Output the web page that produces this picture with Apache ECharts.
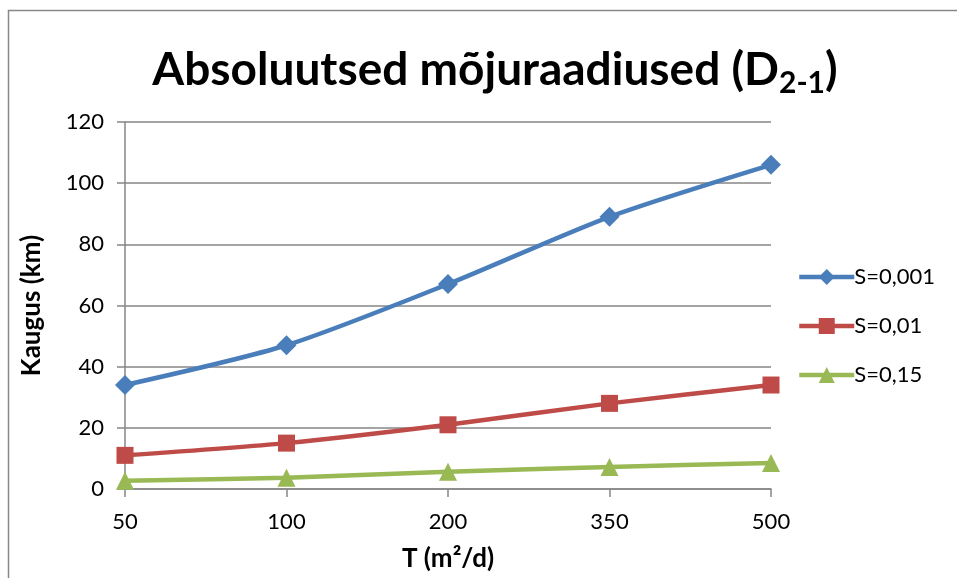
<!DOCTYPE html>
<html>
<head>
<meta charset="utf-8">
<script src="https://cdn.jsdelivr.net/npm/echarts@6/dist/echarts.min.js"></script>
<style>
  html, body { margin: 0; padding: 0; background: #fff; }
  #main { width: 957px; height: 578px; }
</style>
</head>
<body>
<div id="main"></div>
<script>
// values
var categories = ['50', '100', '200', '350', '500'];
var s001 = [34, 47, 67, 89, 106];
var s01 = [11, 15, 21, 28, 34];
var s15 = [2.7, 3.7, 5.6, 7.2, 8.5];
var seriesNames = ['S=0,001', 'S=0,01', 'S=0,15'];

var font = 'Lato, "Open Sans", sans-serif';
var gray = '#868686';

var chart = echarts.init(document.getElementById('main'));

function line(name, data, color, symbol, size) {
    return {
        name: name,
        type: 'line',
        data: data,
        smooth: 0.25,
        symbol: symbol,
        symbolSize: size,
        showSymbol: true,
        lineStyle: { color: color, width: 4.5 },
        itemStyle: { color: color },
        emphasis: { disabled: true }
    };
}

var option = {
    animation: false,
    backgroundColor: '#fff',
    title: {
        text: '{m|Absoluutsed mõjuraadiused (D}{s|2-1}{m|)}',
        left: 490,
        top: 38,
        textAlign: 'center',
        textStyle: {
            rich: {
                m: { fontFamily: font, fontWeight: 'bold', fontSize: 46, color: '#000', lineHeight: 54 },
                s: { fontFamily: font, fontWeight: 'bold', fontSize: 30, color: '#000', padding: [26, 0, 0, 0], lineHeight: 54 }
            }
        }
    },
    legend: {
        orient: 'vertical',
        left: 797,
        top: 266,
        padding: 0,
        itemWidth: 55,
        itemHeight: 20,
        itemGap: 27,
        data: seriesNames,
        lineStyle: { width: 4.5 },
        textStyle: { fontFamily: font, fontSize: 22, lineHeight: 20, color: '#000', padding: [0, 0, 0, -5] }
    },
    grid: {
        left: 125,
        right: 186,
        top: 122,
        bottom: 89,
        containLabel: false,
        outerBoundsMode: 'none'
    },
    xAxis: {
        type: 'category',
        data: categories,
        boundaryGap: false,
        name: 'T (m²/d)',
        nameLocation: 'middle',
        nameGap: 57,
        nameTextStyle: { fontFamily: font, fontWeight: 'bold', fontSize: 26, color: '#000' },
        axisLine: { lineStyle: { color: gray, width: 1.5 } },
        axisTick: { show: true, alignWithLabel: true, length: 8, lineStyle: { color: gray, width: 1.5 } },
        axisLabel: { fontFamily: font, fontSize: 22, color: '#000', margin: 22 },
        splitLine: { show: false }
    },
    yAxis: {
        type: 'value',
        min: 0,
        max: 120,
        interval: 20,
        name: 'Kaugus (km)',
        nameLocation: 'middle',
        nameRotate: 90,
        nameGap: 80,
        nameTextStyle: { fontFamily: font, fontWeight: 'bold', fontSize: 26, color: '#000' },
        axisLine: { show: true, lineStyle: { color: gray, width: 1.5 } },
        axisTick: { show: true, length: 8, lineStyle: { color: gray, width: 1.5 } },
        axisLabel: { fontFamily: font, fontSize: 22, color: '#000', margin: 21 },
        splitLine: { show: true, lineStyle: { color: gray, width: 1.5 } }
    },
    graphic: [{
        type: 'rect',
        shape: { x: 8.5, y: 10.5, width: 1000, height: 700 },
        style: { fill: 'none', stroke: '#888', lineWidth: 1.5 },
        silent: true,
        z: -1
    }],
    series: [
        line(seriesNames[0], s001, '#4A7EBB', 'diamond', 20),
        line(seriesNames[1], s01, '#BE4B48', 'rect', 17),
        line(seriesNames[2], s15, '#98B954', 'triangle', 18)
    ]
};

chart.setOption(option);
</script>
</body>
</html>
